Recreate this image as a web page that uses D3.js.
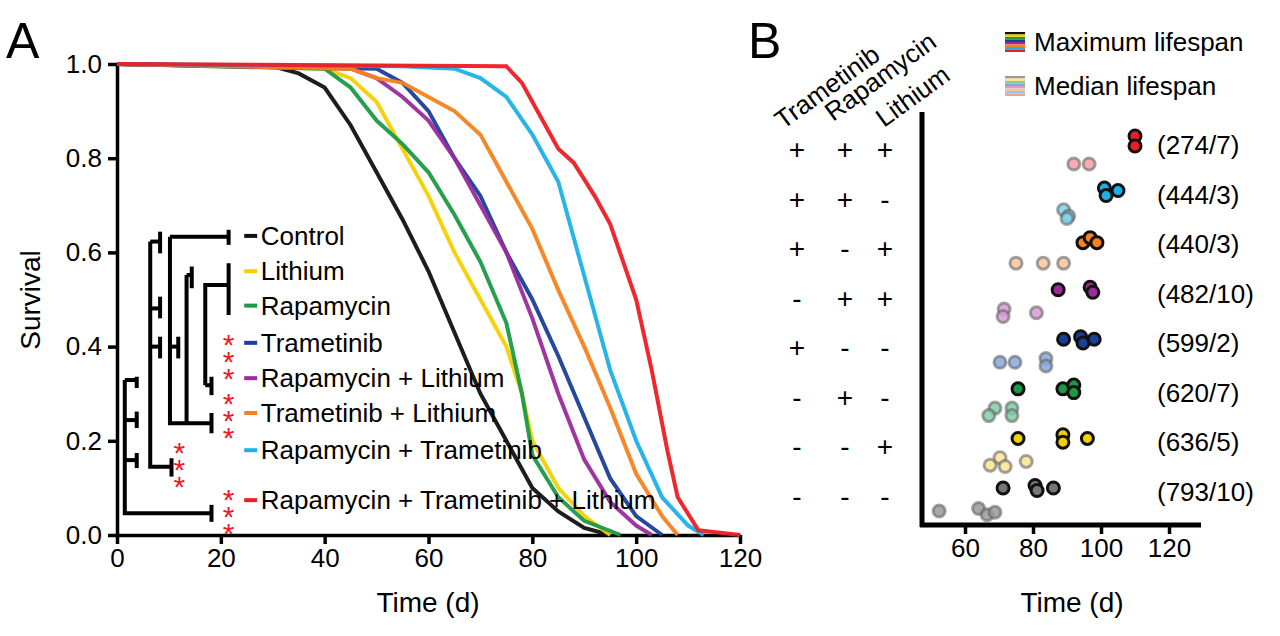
<!DOCTYPE html>
<html><head><meta charset="utf-8">
<script src="https://cdn.jsdelivr.net/npm/d3@7"></script>
<style>body{margin:0;background:#fff}text{font-family:Arial,"Liberation Sans",sans-serif}</style>
</head><body><svg id="chart" width="1280" height="636"></svg>
<script>
// groups (panel A legend order)
const groups = ["Control","Lithium","Rapamycin","Trametinib","Rapamycin + Lithium","Trametinib + Lithium","Rapamycin + Trametinib","Rapamycin + Trametinib + Lithium"];
const colors = ["#111111","#f5d000","#1a9a46","#1a3f99","#9b2a9c","#f7821e","#1bb1e8","#ee1c25"];
const lightColors = ["#9a9a9a","#fbe590","#7fcfa3","#8aa7dd","#d99ad6","#f8c59b","#7fd3f0","#f59ea4"];
// survival curves [day, fraction]
const sControl = [[0,1],[30,0.995],[35,0.98],[40,0.95],[45,0.87],[50,0.77],[55,0.67],[60,0.56],[65,0.43],[70,0.3],[75,0.2],[80,0.1],[85,0.05],[90,0.015],[95,0]];
const sLithium = [[0,1],[40,0.99],[45,0.97],[50,0.92],[55,0.82],[60,0.72],[65,0.6],[70,0.5],[75,0.4],[78,0.3],[80,0.2],[85,0.1],[90,0.04],[95,0]];
const sRapa = [[0,1],[40,0.99],[45,0.95],[50,0.88],[55,0.83],[60,0.77],[65,0.68],[70,0.58],[75,0.45],[78,0.3],[80,0.17],[85,0.08],[90,0.03],[97,0]];
const sTram = [[0,1],[50,0.99],[55,0.96],[60,0.9],[65,0.8],[70,0.72],[75,0.6],[80,0.5],[85,0.38],[90,0.25],[95,0.12],[100,0.04],[105,0]];
const sRapaLi = [[0,1],[45,0.99],[50,0.97],[55,0.93],[60,0.88],[65,0.8],[70,0.7],[75,0.6],[80,0.46],[85,0.3],[90,0.16],[95,0.07],[100,0.02],[103,0]];
const sTramLi = [[0,1],[45,0.99],[50,0.97],[55,0.96],[60,0.93],[65,0.9],[70,0.85],[75,0.75],[80,0.65],[85,0.52],[90,0.4],[95,0.27],[100,0.13],[105,0.04],[108,0]];
const sRapaTram = [[0,1],[55,0.995],[65,0.99],[70,0.97],[75,0.93],[80,0.85],[85,0.75],[88,0.63],[90,0.55],[95,0.35],[100,0.2],[105,0.08],[110,0.02],[113,0]];
const sAll = [[0,1],[75,0.995],[78,0.96],[80,0.92],[85,0.82],[88,0.79],[92,0.72],[95,0.66],[100,0.5],[103,0.35],[106,0.18],[108,0.08],[112,0.01],[120,0]];
const curves = [sControl,sLithium,sRapa,sTram,sRapaLi,sTramLi,sRapaTram,sAll];
const xTicksA = [0,20,40,60,80,100,120];
const yTicksA = [0,0.2,0.4,0.6,0.8,1.0];
// significance tree segments [day, survival] polylines
const tree = [
  [[10.2,0.633],[21.5,0.633]],[[21.5,0.648],[21.5,0.616]],
  [[10.2,0.633],[10.2,0.237],[18.2,0.237]],[[18.2,0.259],[18.2,0.216]],
  [[13.4,0.552],[13.4,0.237]],[[13.4,0.552],[14.4,0.552]],[[14.4,0.57],[14.4,0.524]],
  [[17.0,0.318],[17.0,0.531],[21.5,0.531]],[[21.5,0.577],[21.5,0.467]],
  [[17.0,0.318],[18.2,0.318]],[[18.2,0.336],[18.2,0.297]],
  [[10.2,0.4],[11.8,0.4]],[[11.8,0.421],[11.8,0.375]],
  [[6.4,0.623],[6.4,0.145],[10.5,0.145]],[[10.5,0.163],[10.5,0.124]],
  [[6.4,0.623],[8.3,0.623]],[[8.3,0.644],[8.3,0.598]],
  [[6.4,0.481],[8.3,0.481]],[[8.3,0.506],[8.3,0.46]],
  [[6.4,0.4],[8.3,0.4]],[[8.3,0.421],[8.3,0.375]],
  [[1.5,0.329],[1.5,0.046],[18.2,0.046]],[[18.2,0.064],[18.2,0.028]],
  [[1.5,0.329],[3.8,0.329]],[[3.8,0.336],[3.8,0.312]],
  [[1.5,0.244],[3.8,0.244]],[[3.8,0.262],[3.8,0.227]],
  [[1.5,0.159],[3.8,0.159]],[[3.8,0.174],[3.8,0.142]]
];
const stars = [[21.5,0.37],[21.5,0.245],[12.0,0.14],[21.5,0.04]];
// panel B rows top->bottom
const rowGroups = [7,6,5,4,3,2,1,0];
const treatTram = ["+","+","+","-","+","-","-","-"];
const treatRapa = ["+","+","-","+","-","+","-","-"];
const treatLi   = ["+","-","+","+","-","-","+","-"];
const nLabels = ["(274/7)","(444/3)","(440/3)","(482/10)","(599/2)","(620/7)","(636/5)","(793/10)"];
const maxLife = [[110,110],[101,101.5,105],[94.7,96.8,98.8],[87.4,96.8,97.6],[89,94,94.7,98],[75.6,88.8,92,92],[75.6,88.8,88.8,96],[71.2,80.6,81.2,86]];
const maxJit  = [[-0.2,0.2],[-0.1,0.2,0],[0.1,-0.1,0.1],[0,-0.1,0.1],[0,-0.1,0.15,0],[0,0,-0.15,0.15],[0,-0.15,0.15,0],[0,-0.1,0.1,0]];
const medLife = [[92,96.5],[89,90.5,90],[75,83,89],[71.5,71.2,81],[70.3,74.7,83.8,83.8],[68.8,67,73.8,73.8],[67.4,70.3,71.8,78],[52.4,64,66.5,68.8]];
const medJit  = [[0,0],[-0.15,0.1,0.2],[0,0,0],[-0.15,0.15,0],[0,0,-0.15,0.15],[-0.15,0.15,-0.15,0.15],[0.15,-0.15,0.2,0],[0,-0.1,0.15,0.05]];
const xTicksB = [60,80,100,120];

const svg = d3.select("#chart");
const x = d3.scaleLinear().domain([0,120]).range([117,740]);
const y = d3.scaleLinear().domain([0,1]).range([535,64]);
const gA = svg.append("g");
const styleAxis = g=>{g.select(".domain").attr("stroke-width",3.5);g.selectAll("line").attr("stroke-width",3.5);g.selectAll("text").attr("font-size",26).attr("fill","#000");};
gA.append("g").attr("transform","translate(0,535)")
  .call(d3.axisBottom(x).tickValues(xTicksA).tickSize(9).tickSizeOuter(0).tickPadding(5)).call(styleAxis);
gA.append("g").attr("transform","translate(117,0)")
  .call(d3.axisLeft(y).tickValues(yTicksA).tickFormat(d3.format(".1f")).tickSize(9).tickSizeOuter(0).tickPadding(6)).call(styleAxis);
const line = d3.line().x(d=>x(d[0])).y(d=>y(d[1]));
curves.forEach((c,i)=>gA.append("path").attr("d",line(c)).attr("fill","none").attr("stroke",colors[i]).attr("stroke-width",4).attr("stroke-opacity",0.95));
gA.append("text").attr("x",428).attr("y",612).attr("text-anchor","middle").attr("font-size",28).text("Time (d)");
gA.append("text").attr("transform","translate(40,300) rotate(-90)").attr("text-anchor","middle").attr("font-size",28).text("Survival");
svg.append("text").attr("x",6).attr("y",58).attr("font-size",50).text("A");
tree.forEach(p=>gA.append("path").attr("d",line(p)).attr("fill","none").attr("stroke","#000").attr("stroke-width",4));
stars.forEach(s=>[0,1,2].forEach(k=>gA.append("text").attr("x",x(s[0])).attr("y",y(s[1])+k*17-6).attr("text-anchor","middle").attr("font-size",30).attr("fill","#ee1c25").text("*")));
const legY = [0.635,0.56,0.487,0.408,0.333,0.259,0.18,0.074];
groups.forEach((gname,i)=>{
  gA.append("line").attr("x1",x(24.5)).attr("x2",x(27)).attr("y1",y(legY[i])).attr("y2",y(legY[i])).attr("stroke",colors[i]).attr("stroke-width",4);
  gA.append("text").attr("x",x(27.7)).attr("y",y(legY[i])+9).attr("font-size",26).text(gname);
});

// panel B
svg.append("text").attr("x",748).attr("y",58).attr("font-size",50).text("B");
const xb = d3.scaleLinear().domain([60,120]).range([965,1169]);
const rowY = d3.scaleLinear().domain([0,7]).range([141,488]);
const gB = svg.append("g");
gB.append("line").attr("x1",922).attr("x2",922).attr("y1",112).attr("y2",527).attr("stroke","#000").attr("stroke-width",5);
gB.append("g").attr("transform","translate(0,525)")
  .call(d3.axisBottom(xb).tickValues(xTicksB).tickSize(9).tickSizeOuter(0).tickPadding(5))
  .call(g=>{g.select(".domain").remove();g.selectAll("line").attr("stroke-width",3.5);g.selectAll("text").attr("font-size",26).attr("fill","#000");});
gB.append("line").attr("x1",920).attr("x2",1201).attr("y1",525).attr("y2",525).attr("stroke","#000").attr("stroke-width",5);
gB.append("text").attr("x",1072).attr("y",612).attr("text-anchor","middle").attr("font-size",28).text("Time (d)");
const rowH = 50;
rowGroups.forEach((gi,r)=>{
  const yMax = rowY(r), yMed = rowY(r)+ 23;
  medLife[r].forEach((v,k)=>gB.append("circle").attr("cx",xb(v)).attr("cy",yMed+medJit[r][k]*rowH*0.5)
    .attr("r",6).attr("fill",lightColors[gi]).attr("stroke","#666").attr("stroke-opacity",0.6).attr("stroke-width",3).attr("fill-opacity",0.85));
  maxLife[r].forEach((v,k)=>gB.append("circle").attr("cx",xb(v)).attr("cy",yMax+maxJit[r][k]*rowH*0.5)
    .attr("r",6).attr("fill",colors[gi]==="#111111"?"#777":colors[gi]).attr("stroke","#111").attr("stroke-width",3));
  gB.append("text").attr("x",1157).attr("y",yMax+13).attr("font-size",26).text(nLabels[r]);
  [treatTram,treatRapa,treatLi].forEach((t,c)=>gB.append("text").attr("x",[797,845,885][c]).attr("y",rowY(r)+18)
    .attr("text-anchor","middle").attr("font-size",28).text(t[r]));
});
[["Trametinib",783,130],["Rapamycin",833,122],["Lithium",884,128]].forEach(h=>
  gB.append("text").attr("transform",`translate(${h[1]},${h[2]}) rotate(-36)`).attr("font-size",26).text(h[0]));
// lifespan legend swatches
[[colors,32,"Maximum lifespan"],[lightColors,76,"Median lifespan"]].forEach(L=>{
  L[0].forEach((c,i)=>gB.append("rect").attr("x",1005).attr("y",L[1]+i*2.5).attr("width",20).attr("height",2.5).attr("fill",c));
  gB.append("text").attr("x",1034).attr("y",L[1]+19).attr("font-size",26).text(L[2]);
});
</script></body></html>
